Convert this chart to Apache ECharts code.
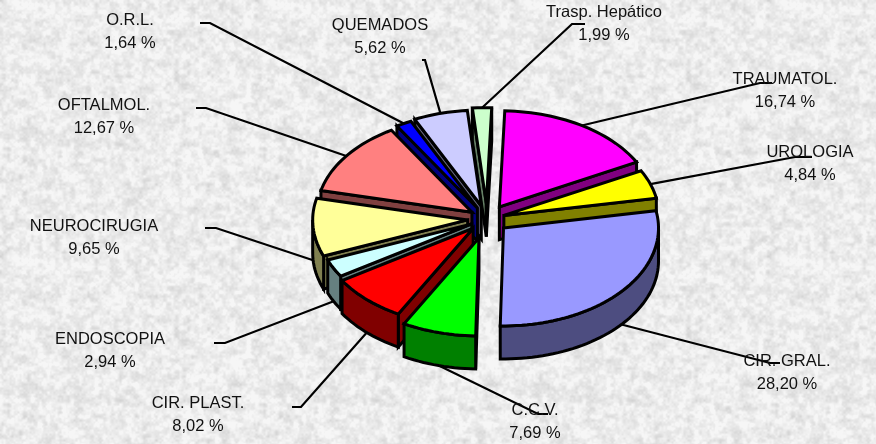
<!DOCTYPE html>
<html><head><meta charset="utf-8">
<style>html,body{margin:0;padding:0;background:#eee}#c{width:876px;height:444px}</style>
<script src="https://cdn.jsdelivr.net/npm/echarts@6/dist/echarts.min.js"></script>
</head><body><div id="c"></div>
<script>
const categories=['TRAUMATOL.','UROLOGIA','CIR. GRAL.','C.C.V.','CIR. PLAST.','ENDOSCOPIA','NEUROCIRUGIA','OFTALMOL.','O.R.L.','QUEMADOS','Trasp. Hepático'];
const values=[16.74,4.84,28.20,7.69,8.02,2.94,9.65,12.67,1.64,5.62,1.99];
const topColors=['#FF00FF','#FFFF00','#9999FF','#00FF00','#FF0000','#CCFFFF','#FFFF99','#FF8080','#0000FF','#CCCCFF','#CCFFCC'];
const wallColors=['#800080','#808000','#4D4D80','#008000','#800000','#668080','#808050','#804040','#000080','#666680','#668066'];
const explode=[.15,.115,.14,.20,.13,.11,.125,.12,.13,.14,.16];
const paintOrder=[10,0,9,8,7,1,6,5,4,2,3];
const labelPos=[[785,78],[810,151],[787,360],[535,409],[198,402],[110,338],[94,225],[104,104],[130,19],[380,24],[604,11]];
const leaderEnd=[[760,83,772],[795,157,812],[770,363,780],[538,414,548],[301,407,292],[225,343,214],[216,228,205],[206,108,196],[210,23,200],[425,60,422],[572,24,585]];

const CX=487,CY=219,RX=155,RY_BACK=96,RY_FRONT=98,H=33,ROT=2;
const total=values.reduce((a,b)=>a+b,0);
const rad=d=>d*Math.PI/180;
function geom(i){
  let s=0;for(let k=0;k<i;k++)s+=values[k];
  const t0=s/total*360+ROT,t1=(s+values[i])/total*360+ROT,m=(t0+t1)/2;
  const ry=t=>Math.cos(rad(t))<0?RY_FRONT:RY_BACK;
  const ax=CX+RX*explode[i]*Math.sin(rad(m)),ay=CY-ry(m)*explode[i]*Math.cos(rad(m));
  const pt=t=>[ax+RX*Math.sin(rad(t)),ay-ry(t)*Math.cos(rad(t))];
  return {t0,t1,m,ax,ay,pt};
}
function arc(g,a,b){const n=Math.max(2,Math.ceil((b-a)/2)),o=[];for(let j=0;j<=n;j++)o.push(g.pt(a+(b-a)*j/n));return o;}
const down=p=>[p[0],p[1]+H];
function sliceItem(i){
  const g=geom(i),el=[];
  const st={lineWidth:3,stroke:'#000',lineJoin:'miter',miterLimit:4,fill:wallColors[i]};
  const poly=(pts,fill)=>el.push({type:'polygon',shape:{points:pts},style:Object.assign({},st,{fill:fill||wallColors[i]})});
  const A=[g.ax,g.ay];
  if(Math.sin(rad(g.t0))<0){const p=g.pt(g.t0);poly([A,p,down(p),down(A)]);}
  if(Math.sin(rad(g.t1))>0){const p=g.pt(g.t1);poly([A,p,down(p),down(A)]);}
  const a=Math.max(g.t0,90),b=Math.min(g.t1,270);
  if(b>a){const r=arc(g,a,b);poly(r.concat(r.slice().reverse().map(down)));}
  poly([A].concat(arc(g,g.t0,g.t1)),topColors[i]);
  return {type:'group',children:el};
}
function texture(){
  const c=document.createElement('canvas');c.width=256;c.height=256;
  const x=c.getContext('2d'),im=x.createImageData(256,256);
  const h=(a,b)=>{const v=Math.sin(a*127.1+b*311.7)*43758.5453;return v-Math.floor(v);};
  const n=(a,b,p)=>{const i=Math.floor(a),j=Math.floor(b),f=a-i,g=b-j,u=f*f*(3-2*f),w=g*g*(3-2*g);
    const W=q=>((q%p)+p)%p;
    const l=(1-u)*h(W(i),W(j))+u*h(W(i+1),W(j)),r=(1-u)*h(W(i),W(j+1))+u*h(W(i+1),W(j+1));return (1-w)*l+w*r;};
  for(let yy=0;yy<256;yy++)for(let xx=0;xx<256;xx++){
    const v=.35*n(xx/8,yy/8,32)+.4*n(xx/4,yy/4,64)+.25*n(xx/2,yy/2,128);
    const g=Math.max(210,Math.min(246,236+(v-.5)*55));
    const o=(yy*256+xx)*4;im.data[o]=im.data[o+1]=im.data[o+2]=g;im.data[o+3]=255;
  }
  x.putImageData(im,0,0);return c;
}
const fmt=v=>v.toFixed(2).replace('.',',')+' %';
const chart=echarts.init(document.getElementById('c'),null,{renderer:'canvas'});
chart.setOption({
  animation:false,
  backgroundColor:{image:texture(),repeat:'repeat'},
  series:[
   {type:'custom',coordinateSystem:'none',z:1,silent:true,data:categories.map((c,i)=>[i]),
    renderItem:(p,api)=>{const i=api.value(0),g=geom(i),r=g.pt(g.m),q=Math.cos(rad(g.m))<0?down(r):r,e=leaderEnd[i];
      return {type:'polyline',shape:{points:[q,[e[0],e[1]],[e[2],e[1]]]},style:{stroke:'#000',lineWidth:2.2,fill:null}};}},
   {type:'custom',coordinateSystem:'none',z:2,silent:true,data:paintOrder.map(i=>[i]),
    renderItem:(p,api)=>sliceItem(api.value(0))},
   {type:'custom',coordinateSystem:'none',z:3,silent:true,data:categories.map((c,i)=>[i]),
    renderItem:(p,api)=>{const i=api.value(0),l=labelPos[i];
      return {type:'text',style:{x:l[0],y:l[1]+13,text:categories[i]+'\n'+fmt(values[i]),
        font:'16.5px "Liberation Sans"',lineHeight:23,fill:'#111',align:'center',verticalAlign:'middle'}};}}
  ]
});
</script></body></html>
